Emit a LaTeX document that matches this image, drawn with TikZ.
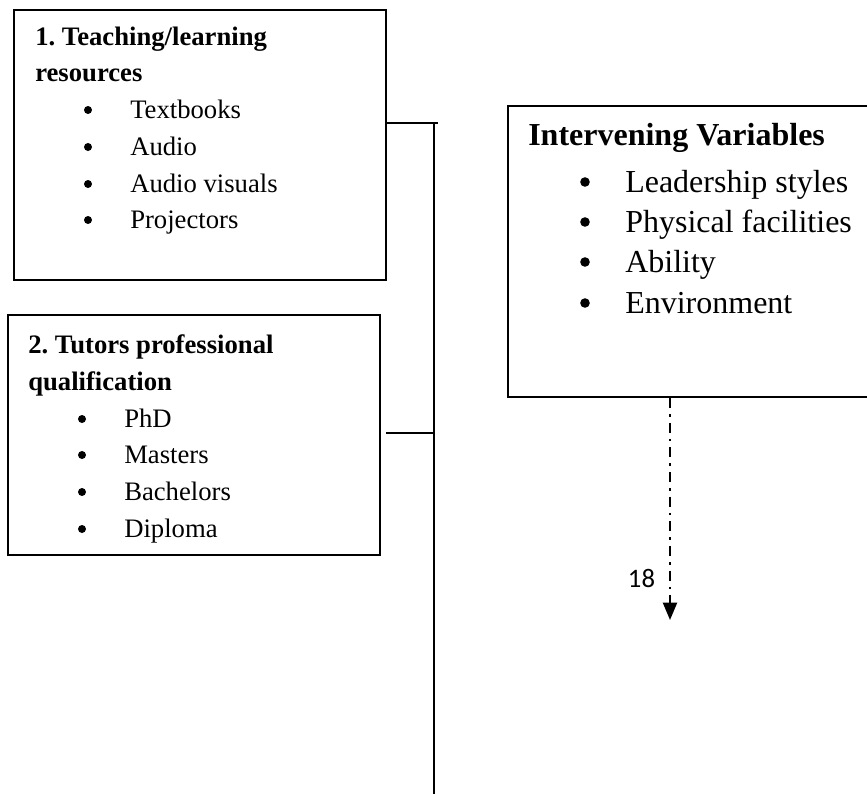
\documentclass[tikz,border=0pt]{standalone}
\usepackage{fontspec}
\setmainfont{Liberation Serif}
\newfontfamily\calibrifont{Carlito}
\usetikzlibrary{arrows.meta,fit}
\frenchspacing
\begin{document}
\begin{tikzpicture}[x=0.75pt,y=-0.75pt,
  boxline/.style={draw=black,line width=1.6pt,inner sep=0pt},
  lbl/.style={anchor=base west,inner sep=0pt},
  dotsmall/.style={circle,fill=black,inner sep=0pt,minimum size=6pt},
  dotbig/.style={circle,fill=black,inner sep=0pt,minimum size=7.2pt},
  small/.style={font=\fontsize{20}{24}\selectfont},
  big/.style={font=\fontsize{24}{29}\selectfont},
  trunk/.style={draw=black,line width=1.5pt},
  dasharrow/.style={draw=black,line width=1.6pt,dash pattern=on 7.5pt off 4.5pt on 2pt off 4.5pt,
    -{Triangle[width=10.5pt,length=13pt]}}]
\clip (0,0) rectangle (867,793);
% boxes
\node[boxline,fit={(14,10) (386,280)}] (box1) {};
\node[boxline,fit={(8,315) (380,555)}] (box2) {};
\node[boxline,fit={(508,106) (900,397)}] (ivbox) {};
% box 1 text
\node[lbl,small] (t1a) at (35,45) {\textbf{1. Teaching/learning}};
\node[lbl,small] (t1b) at (35,81) {\textbf{resources}};
\foreach \y/\t [count=\i] in {118/Textbooks,155/Audio,192/Audio visuals,228/Projectors}{
  \node[dotsmall] (b1d\i) at (88,\y-8) {};
  \node[lbl,small] (b1t\i) at (130,\y) {\t};
}
% box 2 text
\node[lbl,small] (t2a) at (28,353) {\textbf{2. Tutors professional}};
\node[lbl,small] (t2b) at (28,390) {\textbf{qualification}};
\foreach \y/\t [count=\i] in {427/PhD,463/Masters,500/Bachelors,537/Diploma}{
  \node[dotsmall] (b2d\i) at (82,\y-8) {};
  \node[lbl,small] (b2t\i) at (124,\y) {\t};
}
% intervening box text
\node[lbl,big] (t3a) at (528,145) {\textbf{Intervening Variables}};
\foreach \y/\t [count=\i] in {192/Leadership styles,232/Physical facilities,272/Ability,313/Environment}{
  \node[dotbig] (b3d\i) at (585,\y-10) {};
  \node[lbl,big] (b3t\i) at (625,\y) {\t};
}
% connectors
\coordinate (ctop) at (434,123);
\coordinate (cmid) at (434,433);
\coordinate (cbot) at (434,800);
\draw[trunk] (box1.east |- ctop) -- ([xshift=3]ctop);
\draw[trunk] ([xshift=4]box2.east |- cmid) -- (cmid);
\draw[trunk] (ctop) -- (cbot);
\coordinate (aend) at (670,620);
\draw[dasharrow] (ivbox.south -| aend) -- (aend);
\node[anchor=base,inner sep=0pt,font=\calibrifont\fontsize{20}{24}\selectfont] (n18) at (641.5,587) {18};
\end{tikzpicture}
\end{document}
